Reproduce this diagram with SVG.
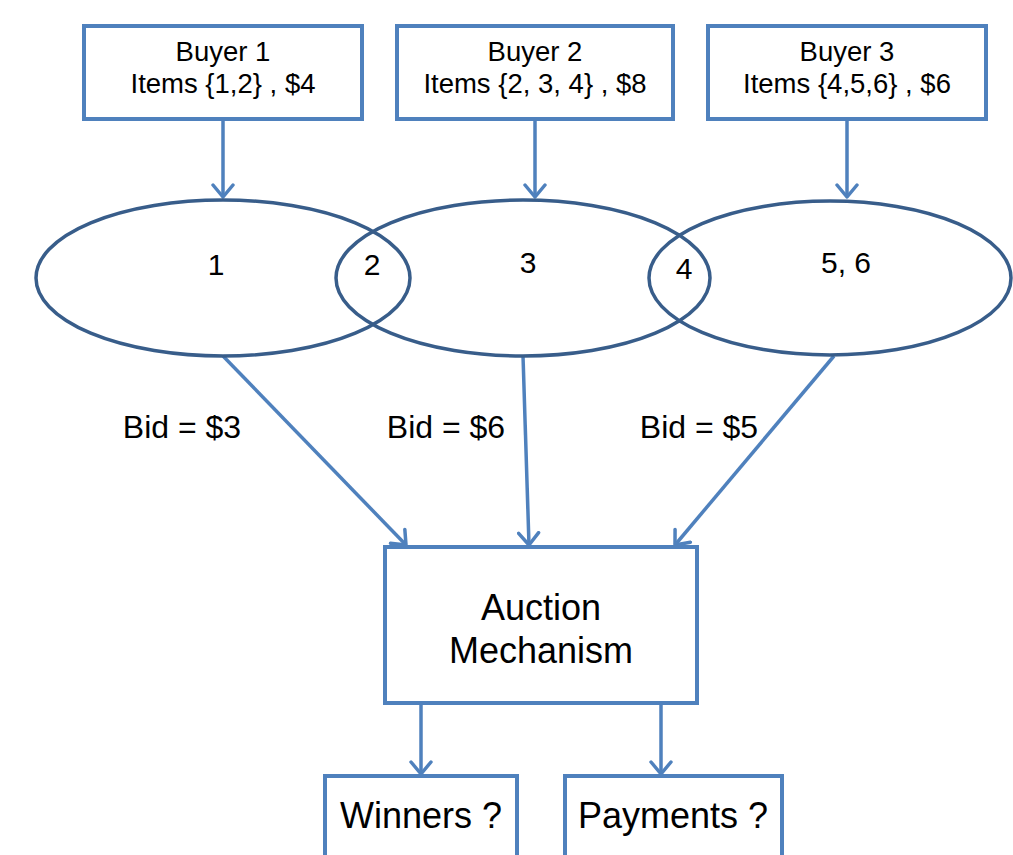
<svg xmlns="http://www.w3.org/2000/svg" width="1013" height="855" viewBox="0 0 1013 855">
<style>
.box{fill:#fff;stroke:#4F81BD;stroke-width:4}
.ell{fill:none;stroke:#385D8A;stroke-width:3.5}
.t{font-family:"Liberation Sans",Arial,sans-serif;fill:#000;text-anchor:middle}
.s26{font-size:27.5px}
.s30{font-size:30px}
.s31{font-size:32px}
.s35{font-size:36px}
.c{stroke:#4F81BD;stroke-width:3.5;fill:none;marker-end:url(#ah)}
</style>
<defs>
<marker id="ah" markerUnits="userSpaceOnUse" viewBox="0 0 16 24" refX="14" refY="12" markerWidth="16" markerHeight="24" orient="auto">
<path d="M2,2 L14,12 L2,22" fill="none" stroke="#4F81BD" stroke-width="3.5" stroke-linecap="round" stroke-linejoin="round"/>
</marker>
</defs>
<rect width="1013" height="855" fill="#fff"/>
<g id="connectors">
<line class="c" x1="223" y1="119" x2="223" y2="197"/>
<line class="c" x1="535" y1="119" x2="535" y2="197"/>
<line class="c" x1="847" y1="119" x2="847" y2="197"/>
<line class="c" x1="223" y1="356" x2="406" y2="545"/>
<line class="c" x1="523" y1="356" x2="529" y2="545"/>
<line class="c" x1="834" y1="356" x2="675" y2="545"/>
<line class="c" x1="421" y1="704" x2="421" y2="774"/>
<line class="c" x1="661" y1="704" x2="661" y2="774"/>
</g>
<g id="buyer1">
<rect class="box" x="84" y="26" width="278" height="93"/>
<text class="t s26" x="223" y="61">Buyer 1</text>
<text class="t s26" x="223" y="93">Items {1,2} , $4</text>
</g>
<g id="buyer2">
<rect class="box" x="397" y="26" width="276" height="93"/>
<text class="t s26" x="535" y="61">Buyer 2</text>
<text class="t s26" x="535" y="93">Items {2, 3, 4} , $8</text>
</g>
<g id="buyer3">
<rect class="box" x="708" y="26" width="278" height="93"/>
<text class="t s26" x="847" y="61">Buyer 3</text>
<text class="t s26" x="847" y="93">Items {4,5,6} , $6</text>
</g>
<g id="ellipse1">
<ellipse class="ell" cx="223" cy="278" rx="187" ry="78"/>
</g>
<g id="ellipse2">
<ellipse class="ell" cx="523" cy="278" rx="187" ry="78"/>
</g>
<g id="ellipse3">
<ellipse class="ell" cx="830" cy="278" rx="181" ry="77"/>
</g>
<g id="item-labels">
<text class="t s30" x="216" y="275">1</text>
<text class="t s30" x="372" y="275">2</text>
<text class="t s30" x="528" y="273">3</text>
<text class="t s30" x="684" y="279">4</text>
<text class="t s30" x="846" y="273">5, 6</text>
</g>
<g id="bid-labels">
<text class="t s31" x="182" y="438">Bid = $3</text>
<text class="t s31" x="446" y="438">Bid = $6</text>
<text class="t s31" x="699" y="438">Bid = $5</text>
</g>
<g id="auction">
<rect class="box" x="385" y="547" width="312" height="156"/>
<text class="t s35" x="541" y="620">Auction</text>
<text class="t s35" x="541" y="663">Mechanism</text>
</g>
<g id="winners">
<rect class="box" x="325" y="776" width="192" height="100"/>
<text class="t s35" x="421" y="828">Winners ?</text>
</g>
<g id="payments">
<rect class="box" x="565" y="776" width="217" height="100"/>
<text class="t s35" x="673" y="828">Payments ?</text>
</g>
</svg>
